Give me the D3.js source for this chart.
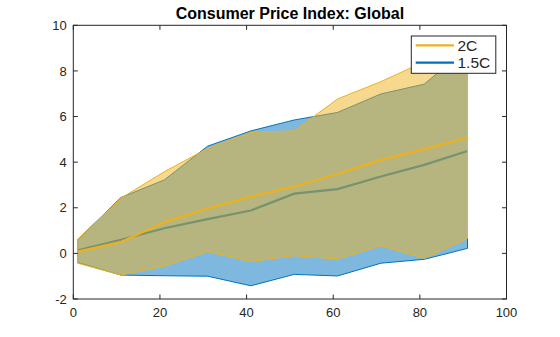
<!DOCTYPE html>
<html><head><meta charset="utf-8">
<script src="https://cdn.jsdelivr.net/npm/d3@7"></script>
<style>
html,body{margin:0;padding:0;background:#fff;}
svg{display:block;font-family:"Liberation Sans",Arial,sans-serif;}
</style></head>
<body><svg id="c" width="560" height="337"></svg>
<script>
const years = [1, 11, 21, 31, 41, 51, 61, 71, 81, 91];
const mean2C = [0.08, 0.5, 1.36, 1.97, 2.49, 2.93, 3.48, 4.1, 4.57, 5.07];
const low2C  = [-0.43, -0.95, -0.56, 0.08, -0.36, -0.1, -0.25, 0.34, -0.22, 0.66];
const high2C = [0.62, 2.42, 3.58, 4.6, 5.31, 5.37, 6.77, 7.53, 8.4, 8.8];
const mean15 = [0.13, 0.6, 1.1, 1.5, 1.88, 2.62, 2.82, 3.37, 3.88, 4.49];
const low15  = [-0.4, -0.95, -0.98, -1.0, -1.42, -0.92, -0.99, -0.43, -0.26, 0.22];
const high15 = [0.6, 2.45, 3.22, 4.7, 5.37, 5.85, 6.18, 6.99, 7.42, 9.0];
const xTicks = [0, 20, 40, 60, 80, 100];
const yTicks = [-2, 0, 2, 4, 6, 8, 10];
const seriesNames = ["2C", "1.5C"];
const title = "Consumer Price Index: Global";

const C_ORANGE = "#EDB120", C_BLUE = "#0072BD", AX = "#262626";
const L = 73.3, R = 506.5, T = 25.3, B = 299;
const svg = d3.select("#c");
const x = d3.scaleLinear().domain([0, 100]).range([L, R]);
const y = d3.scaleLinear().domain([-2, 10]).range([B, T]);

function band(hi, lo) {
  const pts = years.map((yr, i) => [x(yr), y(hi[i])])
    .concat(years.map((yr, i) => [x(yr), y(lo[i])]).reverse());
  return "M" + pts.map(p => p.join(",")).join("L") + "Z";
}
const line = d3.line().x((d, i) => x(years[i])).y(d => y(d));

const g = svg.append("g");
// 1.5C band and mean
g.append("path").attr("d", band(high15, low15))
  .attr("fill", C_BLUE).attr("fill-opacity", 0.5)
  .attr("stroke", C_BLUE).attr("stroke-width", 1).attr("stroke-linejoin", "round");
g.append("path").attr("d", line(mean15)).attr("fill", "none")
  .attr("stroke", C_BLUE).attr("stroke-width", 2.2);
// 2C band and mean
g.append("path").attr("d", band(high2C, low2C))
  .attr("fill", C_ORANGE).attr("fill-opacity", 0.5)
  .attr("stroke", C_ORANGE).attr("stroke-width", 1).attr("stroke-linejoin", "round");
g.append("path").attr("d", line(mean2C)).attr("fill", "none")
  .attr("stroke", C_ORANGE).attr("stroke-width", 2.2);

// axes
const tickLen = 4.5;
const ax = svg.append("g").attr("stroke", AX).attr("stroke-width", 1).attr("fill", "none");
ax.append("rect").attr("x", L).attr("y", T).attr("width", R - L).attr("height", B - T);
xTicks.forEach(t => {
  ax.append("line").attr("x1", x(t)).attr("x2", x(t)).attr("y1", B).attr("y2", B - tickLen);
  ax.append("line").attr("x1", x(t)).attr("x2", x(t)).attr("y1", T).attr("y2", T + tickLen);
});
yTicks.forEach(t => {
  ax.append("line").attr("x1", L).attr("x2", L + tickLen).attr("y1", y(t)).attr("y2", y(t));
  ax.append("line").attr("x1", R).attr("x2", R - tickLen).attr("y1", y(t)).attr("y2", y(t));
});
svg.append("g").selectAll("text").data(xTicks).join("text")
  .attr("x", d => x(d)).attr("y", B + 18).attr("text-anchor", "middle")
  .attr("font-size", 13).attr("fill", AX).text(d => d);
svg.append("g").selectAll("text").data(yTicks).join("text")
  .attr("x", L - 6.5).attr("y", d => y(d) + 4.6).attr("text-anchor", "end")
  .attr("font-size", 13).attr("fill", AX).text(d => d);

svg.append("text").attr("x", (L + R) / 2).attr("y", 18.8).attr("text-anchor", "middle")
  .attr("font-size", 16).attr("font-weight", "bold").attr("fill", "#000").text(title);

// legend
const lg = svg.append("g");
lg.append("rect").attr("x", 411.3).attr("y", 36).attr("width", 84.5).attr("height", 37.3)
  .attr("fill", "#fff").attr("stroke", AX).attr("stroke-width", 1);
[C_ORANGE, C_BLUE].forEach((c, i) => {
  const yy = 45.3 + i * 17.4;
  lg.append("line").attr("x1", 415.7).attr("x2", 454).attr("y1", yy).attr("y2", yy)
    .attr("stroke", c).attr("stroke-width", 2.2);
  lg.append("text").attr("x", 457.5).attr("y", yy + 5.4).attr("font-size", 15.5)
    .attr("fill", AX).text(seriesNames[i]);
});
</script></body></html>
